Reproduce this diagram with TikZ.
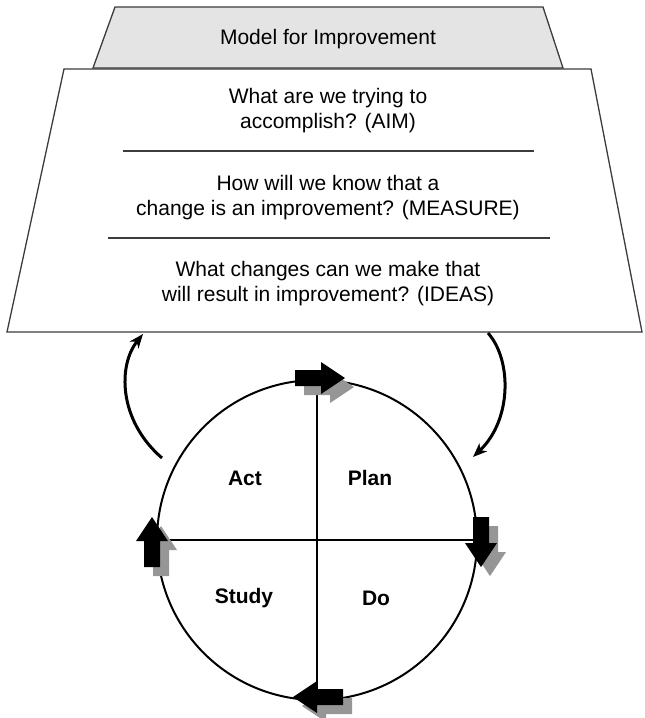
\documentclass[tikz,border=0pt]{standalone}
\usepackage{fontspec}
\setmainfont{Liberation Sans}
\usetikzlibrary{arrows.meta}
\definecolor{edgegray}{RGB}{60,60,60}
\definecolor{panelgray}{RGB}{228,228,228}
\definecolor{shadowgray}{RGB}{150,150,150}

\tikzset{blockarrow/.pic={\path[pic actions] (-26,-8) -- (0,-8) -- (0,-16) -- (24,0) -- (0,16) -- (0,8) -- (-26,8) -- cycle;}}

\begin{document}
\begin{tikzpicture}[x=1pt,y=-1pt,line width=2pt,
  panel/.style={draw=edgegray,line width=1.3pt},
  question/.style={align=center,inner sep=0pt,font=\fontsize{21}{25}\selectfont},
  phase/.style={inner sep=0pt,font=\fontsize{21}{25}\selectfont\bfseries},
  rule/.style={edgegray,line width=1.3pt},
  feedback/.style={line width=3pt,-{Stealth[length=14pt,width=11pt,inset=4pt]}}]
\path[use as bounding box] (0,0) rectangle (645,718);
% the three questions
\draw[panel,fill=white] (64,69) -- (591,69) -- (642,332) -- (7,332) -- cycle;
\draw[panel,fill=panelgray] (115,7) -- (543,7) -- (563,68) -- (93,68) -- cycle;
\node[question] (title) at (328,39) {Model for Improvement};
\node[question] (aim) at (328,111) {What are we trying to\\accomplish? (AIM)};
\draw[rule] (123,151) -- (534,151);
\node[question] (measure) at (328,198) {How will we know that a\\change is an improvement? (MEASURE)};
\draw[rule] (108,238) -- (550,238);
\node[question] (ideas) at (328,284) {What changes can we make that\\will result in improvement? (IDEAS)};
% PDSA cycle
\node[draw,circle,minimum size=320pt,inner sep=0pt] (cycle) at (317,540) {};
\draw (cycle.north) -- (cycle.south);
\draw (cycle.west) -- (cycle.east);
\node[phase] (act) at (245,478) {Act};
\node[phase] (plan) at (370,478) {Plan};
\node[phase] (study) at (244,598) {Study};
\node[phase] (do) at (376,598) {Do};
\foreach \px/\py/\ang in {321/378/0, 481/543/-90, 317/697/180, 152/541/90} {
  \pic[rotate=\ang,fill=shadowgray] at (\px+9,\py+9) {blockarrow};
  \pic[rotate=\ang,fill=black] at (\px,\py) {blockarrow};
}
% links between model and cycle
\coordinate (actout) at (162,458);
\coordinate (aimin) at (143,334);
\coordinate (ideasout) at (488,333);
\coordinate (planin) at (473,457);
\draw[feedback] (actout) .. controls (118,420) and (118,365) .. (aimin);
\draw[feedback] (ideasout) .. controls (512,360) and (512,420) .. (planin);
\end{tikzpicture}
\end{document}
